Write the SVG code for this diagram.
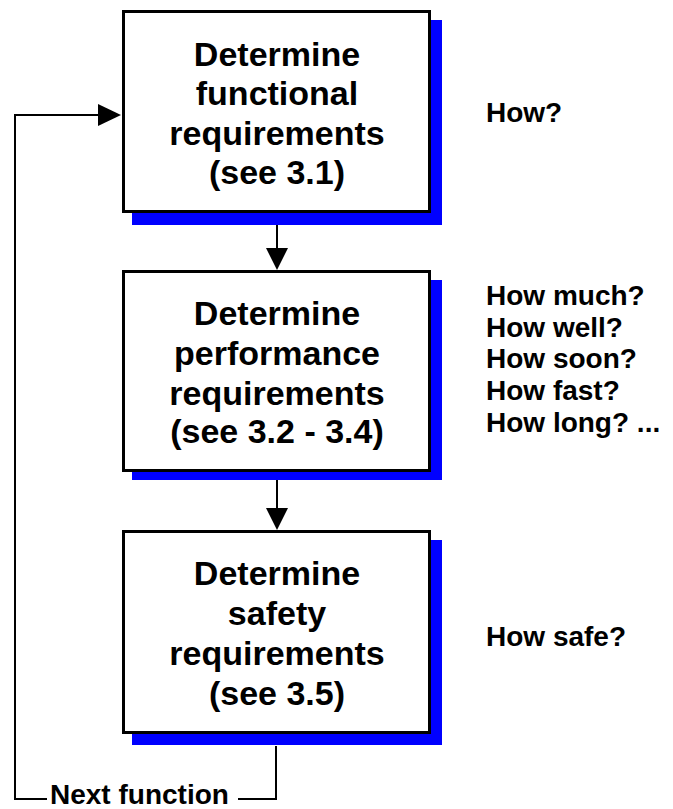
<svg xmlns="http://www.w3.org/2000/svg" width="673" height="809" viewBox="0 0 673 809">
<style>
.shadow{fill:#0000FF;stroke:none}
.box{fill:#FFFFFF;stroke:#000000;stroke-width:3}
.t{font-family:"Liberation Sans",Arial,sans-serif;font-weight:bold;font-size:34px;fill:#000;text-anchor:middle}
.q{font-family:"Liberation Sans",Arial,sans-serif;font-weight:bold;font-size:28px;fill:#000}
.line{fill:none;stroke:#000;stroke-width:2}
.head{fill:#000;stroke:none}
</style>
<rect width="673" height="809" fill="#FFFFFF"/>
<g id="connectors">
<polyline class="line" points="276,746 276,799 238,799"/>
<polyline class="line" points="47,799 15,799 15,115 100,115"/>
<polygon class="head" points="98,104 121,115 98,126"/>
<line class="line" x1="277" y1="225" x2="277" y2="250"/>
<polygon class="head" points="266,248 288,248 277,270"/>
<line class="line" x1="277" y1="480" x2="277" y2="510"/>
<polygon class="head" points="266,508 288,508 277,530"/>
<text class="q" x="50" y="804" font-size="27.5">Next function</text>
</g>
<g id="node1">
<rect class="shadow" x="132" y="20" width="310" height="205"/>
<rect class="box" x="123.5" y="11.5" width="306" height="200"/>
<text class="t" x="277" y="66">Determine</text>
<text class="t" x="277" y="105">functional</text>
<text class="t" x="277" y="145">requirements</text>
<text class="t" x="277" y="184">(see 3.1)</text>
</g>
<g id="node2">
<rect class="shadow" x="132" y="280" width="310" height="200"/>
<rect class="box" x="123.5" y="271.5" width="306" height="199"/>
<text class="t" x="277" y="325">Determine</text>
<text class="t" x="277" y="365">performance</text>
<text class="t" x="277" y="405">requirements</text>
<text class="t" x="277" y="443">(see 3.2 - 3.4)</text>
</g>
<g id="node3">
<rect class="shadow" x="132" y="540" width="310" height="205"/>
<rect class="box" x="123.5" y="531.5" width="306" height="201"/>
<text class="t" x="277" y="585">Determine</text>
<text class="t" x="277" y="625">safety</text>
<text class="t" x="277" y="665">requirements</text>
<text class="t" x="277" y="705">(see 3.5)</text>
</g>
<g id="notes">
<text class="q" x="486" y="122">How?</text>
<text class="q" x="486" y="305">How much?</text>
<text class="q" x="486" y="337">How well?</text>
<text class="q" x="486" y="368">How soon?</text>
<text class="q" x="486" y="400">How fast?</text>
<text class="q" x="486" y="432">How long? ...</text>
<text class="q" x="486" y="646">How safe?</text>
</g>
</svg>
